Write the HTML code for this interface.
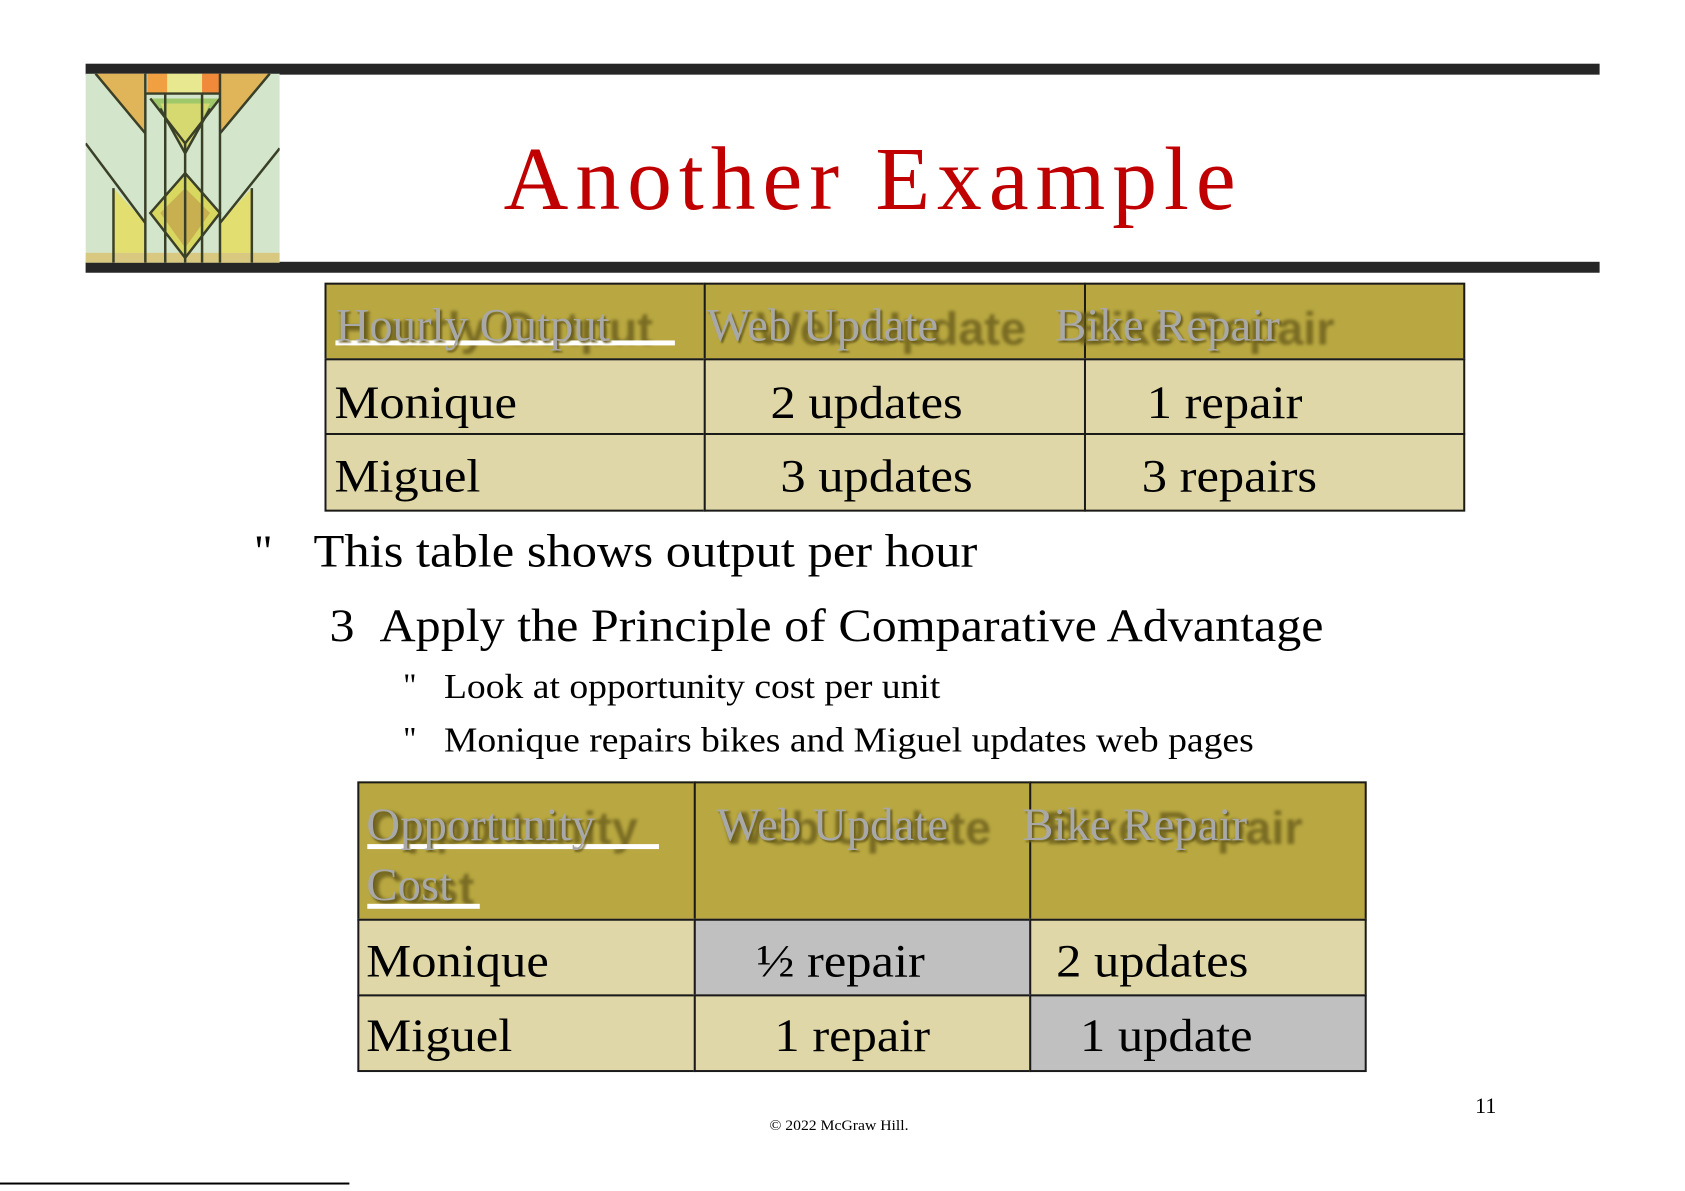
<!DOCTYPE html>
<html><head><meta charset="utf-8"><style>
body{margin:0;width:1685px;height:1191px;background:#fff;position:relative;overflow:hidden;font-family:"Liberation Serif",serif;}
#w{position:absolute;left:0;top:0;width:1685px;height:1191px;transform:scale(0.9954);transform-origin:0 0;}
.a{position:absolute;white-space:nowrap;line-height:1;transform-origin:0 0;}
.bar{position:absolute;left:86px;width:1521px;height:11px;background:#262626;}
.cell{position:absolute;box-sizing:border-box;border:2px solid #1a1a1a;}
.t{font-size:47px;transform:scaleX(1.08);}
.hg{font-size:47px;color:#a8a8a8;text-shadow:2px 2px 2px #6a5e1c;}
.gh{font-family:"Liberation Sans",sans-serif;font-weight:bold;font-size:47px;color:rgba(100,88,25,.75);filter:blur(1.5px);}
.ul{position:absolute;height:5px;background:#fff;}
</style></head><body><div id="w">
<div class="bar" style="top:64px"></div>
<div class="bar" style="top:263px"></div>
<svg class="a" style="left:86px;top:74px" width="195" height="190" viewBox="0 0 195 190">
<rect width="195" height="190" fill="#d3e6cb"/>
<polygon points="10,0 60,0 60,60" fill="#e0b55a"/>
<polygon points="135,0 185,0 135,60" fill="#e0b55a"/>
<rect x="62" y="0" width="20" height="20" fill="#f0a040"/>
<rect x="82" y="0" width="35" height="20" fill="#e7e890"/>
<rect x="117" y="0" width="18" height="20" fill="#f08a3a"/>
<polygon points="65,25 100,70 135,25" fill="#9ec86a"/>
<polygon points="75,30 100,80 125,30" fill="#d6d870"/>
<polygon points="65,140 100,100 135,140 100,185" fill="#d8d860"/>
<polygon points="75,140 100,115 125,140 100,175" fill="#c8b050"/>
<polygon points="28,115 60,150 60,190 28,190" fill="#e2df70"/>
<polygon points="167,115 135,150 135,190 167,190" fill="#e2df70"/>
<rect x="0" y="180" width="195" height="10" fill="#d8c880"/>
<g stroke="#3a4028" stroke-width="2.5" fill="none">
<line x1="60" y1="0" x2="60" y2="190"/><line x1="135" y1="0" x2="135" y2="190"/>
<line x1="80" y1="20" x2="80" y2="190"/><line x1="117" y1="20" x2="117" y2="190"/>
<line x1="60" y1="20" x2="135" y2="20"/>
<line x1="10" y1="0" x2="60" y2="60"/><line x1="185" y1="0" x2="135" y2="60"/>
<line x1="0" y1="70" x2="60" y2="150"/><line x1="195" y1="75" x2="135" y2="150"/>
<line x1="28" y1="115" x2="28" y2="190"/><line x1="167" y1="115" x2="167" y2="190"/>
<polyline points="65,25 100,70 135,25"/><polyline points="75,35 100,80 125,35"/>
<polygon points="65,140 100,100 135,140 100,185"/>
<line x1="100" y1="70" x2="100" y2="190"/>
</g></svg>
<div class="a" style="left:506px;top:136px;font-size:90px;color:#c00000;letter-spacing:7px">Another Example</div>

<div class="cell" style="left:326px;top:284px;width:383px;height:78px;background:#b9a841"></div>
<div class="cell" style="left:707px;top:284px;width:384px;height:78px;background:#b9a841"></div>
<div class="cell" style="left:1089px;top:284px;width:383px;height:78px;background:#b9a841"></div>
<div class="cell" style="left:326px;top:360px;width:383px;height:77px;background:#dfd7a7"></div>
<div class="cell" style="left:707px;top:360px;width:384px;height:77px;background:#dfd7a7"></div>
<div class="cell" style="left:1089px;top:360px;width:383px;height:77px;background:#dfd7a7"></div>
<div class="cell" style="left:326px;top:435px;width:383px;height:79px;background:#dfd7a7"></div>
<div class="cell" style="left:707px;top:435px;width:384px;height:79px;background:#dfd7a7"></div>
<div class="cell" style="left:1089px;top:435px;width:383px;height:79px;background:#dfd7a7"></div>

<div class="a gh" style="left:340px;top:306px">Hourly Output</div>
<div class="a gh" style="left:760px;top:306px">Web Update</div>
<div class="a gh" style="left:1082px;top:306px">Bike Repair</div>
<div class="ul" style="left:337px;top:342px;width:341px"></div>
<div class="a hg" style="left:337px;top:304px">Hourly Output</div>
<div class="a hg" style="left:710px;top:304px">Web Update</div>
<div class="a hg" style="left:1060px;top:304px">Bike Repair</div>

<div class="a t" style="left:336px;top:382px">Monique</div>
<div class="a t" style="left:774px;top:382px">2 updates</div>
<div class="a t" style="left:1152px;top:382px">1 repair</div>
<div class="a t" style="left:336px;top:456px">Miguel</div>
<div class="a t" style="left:784px;top:456px">3 updates</div>
<div class="a t" style="left:1147px;top:456px">3 repairs</div>

<div class="a" style="left:255px;top:531px;font-size:46px">"</div>
<div class="a t" style="left:315px;top:531px">This table shows output per hour</div>
<div class="a t" style="left:331px;top:606px;transform:scaleX(1.07)">3&nbsp;&nbsp;Apply the Principle of Comparative Advantage</div>
<div class="a" style="left:405px;top:673px;font-size:33px">"</div>
<div class="a" style="left:446px;top:672px;font-size:35px;transform:scaleX(1.08)">Look at opportunity cost per unit</div>
<div class="a" style="left:405px;top:727px;font-size:33px">"</div>
<div class="a" style="left:446px;top:726px;font-size:35px;transform:scaleX(1.08)">Monique repairs bikes and Miguel updates web pages</div>

<div class="cell" style="left:359px;top:785px;width:340px;height:140px;background:#b9a841"></div>
<div class="cell" style="left:697px;top:785px;width:339px;height:140px;background:#b9a841"></div>
<div class="cell" style="left:1034px;top:785px;width:339px;height:140px;background:#b9a841"></div>
<div class="cell" style="left:359px;top:923px;width:340px;height:78px;background:#dfd7a7"></div>
<div class="cell" style="left:697px;top:923px;width:339px;height:78px;background:#c0c0c0"></div>
<div class="cell" style="left:1034px;top:923px;width:339px;height:78px;background:#dfd7a7"></div>
<div class="cell" style="left:359px;top:999px;width:340px;height:78px;background:#dfd7a7"></div>
<div class="cell" style="left:697px;top:999px;width:339px;height:78px;background:#dfd7a7"></div>
<div class="cell" style="left:1034px;top:999px;width:339px;height:78px;background:#c0c0c0"></div>

<div class="a gh" style="left:372px;top:808px">Opportunity</div>
<div class="a gh" style="left:372px;top:868px">Cost</div>
<div class="a gh" style="left:725px;top:808px">Web Update</div>
<div class="a gh" style="left:1050px;top:808px">Bike Repair</div>
<div class="ul" style="left:369px;top:848px;width:293px"></div>
<div class="ul" style="left:369px;top:908px;width:113px"></div>
<div class="a hg" style="left:368px;top:806px">Opportunity</div>
<div class="a hg" style="left:368px;top:866px">Cost</div>
<div class="a hg" style="left:720px;top:806px">Web Update</div>
<div class="a hg" style="left:1027px;top:806px">Bike Repair</div>

<div class="a t" style="left:368px;top:943px">Monique</div>
<div class="a t" style="left:760px;top:943px">½ repair</div>
<div class="a t" style="left:1061px;top:943px">2 updates</div>
<div class="a t" style="left:368px;top:1018px">Miguel</div>
<div class="a t" style="left:778px;top:1018px">1 repair</div>
<div class="a t" style="left:1085px;top:1018px">1 update</div>

<div class="a" style="left:773px;top:1124px;font-size:15px;transform:scaleX(1.05)">© 2022 McGraw Hill.</div>
<div class="a" style="left:1482px;top:1100px;font-size:22px">11</div>
<div class="a" style="left:0;top:1188px;width:351px;height:2px;background:#000"></div>
</div></body></html>
